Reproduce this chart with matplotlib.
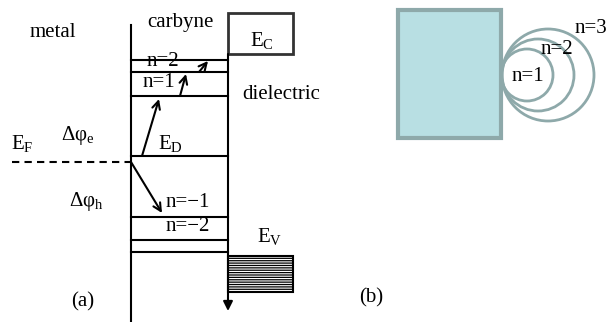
import matplotlib.pyplot as plt
from matplotlib.patches import Rectangle, Circle

plt.rcParams["font.family"] = ["Liberation Serif", "DejaVu Serif"]
plt.rcParams["mathtext.fontset"] = "custom"
plt.rcParams["mathtext.rm"] = "Liberation Serif"
plt.rcParams["mathtext.it"] = "Liberation Serif:italic"
plt.rcParams["hatch.linewidth"] = 0.9
plt.rcParams["hatch.color"] = "#333333"

# ---- panel (a): band diagram, coordinates in pixels (y grows downward) ----
X_METAL = 131          # metal / carbyne boundary
X_DIEL = 228           # carbyne / dielectric boundary
LEVELS_Y = [60, 72, 96, 156, 217, 240, 252]   # carbyne levels
Y_FERMI = 162
EC_BOX = (228, 13, 65, 41)     # x, y, w, h
EV_BOX = (228, 256, 65, 36)

# transitions drawn as arrows: (start, end)
ARROWS = [
    ((131, 162), (162, 213)),   # E_F -> n=-1
    ((142, 156), (159, 99)),    # E_D -> n=1
    ((180, 96), (186, 74)),     # n=1 -> n=2
    ((199, 72), (208, 61)),     # n=2 -> higher
]

LABELS_A = [
    ("metal", 53, 32),
    ("carbyne", 180, 22),
    (r"E$_\mathrm{C}$", 262, 40),
    ("n=2", 163, 61),
    ("n=1", 159, 82),
    ("dielectric", 281, 94),
    ("Δφ$_\\mathrm{e}$", 78, 135),
    ("E$_\\mathrm{F}$", 22, 143),
    ("E$_\\mathrm{D}$", 170, 143),
    ("Δφ$_\\mathrm{h}$", 86, 201),
    ("n=\u22121", 188, 202),
    ("n=\u22122", 188, 226),
    ("E$_\\mathrm{V}$", 270, 236),
    ("(a)", 83, 302),
]

# ---- panel (b): orbits around a carbyne chain end ----
RECT_B = (398, 10, 103, 128)
ORBIT_CX = [527, 538, 548]
ORBIT_R = [26, 36, 46]
ORBIT_CY = 75
LABELS_B = [("n=1", 528, 76), ("n=2", 557, 49), ("n=3", 591, 28), ("(b)", 371, 298)]

fig = plt.figure(figsize=(6.09, 3.22), dpi=100)
ax = fig.add_axes([0, 0, 1, 1])
ax.set_xlim(0, 609)
ax.set_ylim(322, 0)
ax.axis("off")

LW = 1.5
ax.plot([X_METAL, X_METAL], [25, 322], color="black", lw=LW)
ax.annotate("", xy=(X_DIEL, 311), xytext=(X_DIEL, 54),
            arrowprops=dict(arrowstyle="-|>", color="black", lw=LW,
                            mutation_scale=14, shrinkA=0, shrinkB=0))
for y in LEVELS_Y:
    ax.plot([X_METAL, X_DIEL], [y, y], color="black", lw=LW)
ax.plot([12, X_METAL], [Y_FERMI, Y_FERMI], color="black", lw=LW,
        ls=(0, (3.5, 2.5)))

ax.add_patch(Rectangle(EC_BOX[:2], EC_BOX[2], EC_BOX[3], fill=False,
                       ec="#333333", lw=2))
ax.add_patch(Rectangle(EV_BOX[:2], EV_BOX[2], EV_BOX[3], fc="white",
                       ec="black", lw=LW, hatch="-------"))

for (x0, y0), (x1, y1) in ARROWS:
    ax.annotate("", xy=(x1, y1), xytext=(x0, y0),
                arrowprops=dict(arrowstyle="->", color="black", lw=LW,
                                mutation_scale=14, shrinkA=0, shrinkB=0))

for txt, x, y in LABELS_A:
    ax.text(x, y, txt, fontsize=15, ha="center", va="center")

ax.add_patch(Rectangle(RECT_B[:2], RECT_B[2], RECT_B[3], fc="#b8dfe3",
                       ec="#8ea9aa", lw=3))
for cx, r in zip(ORBIT_CX, ORBIT_R):
    ax.add_patch(Circle((cx, ORBIT_CY), r, fill=False, ec="#8ea9aa", lw=2))
for txt, x, y in LABELS_B:
    ax.text(x, y, txt, fontsize=15, ha="center", va="center")

fig.savefig("out.png", dpi=100)
